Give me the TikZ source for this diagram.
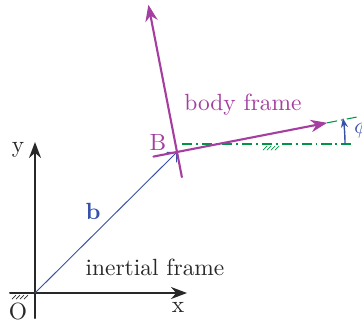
\documentclass[tikz,border=0pt]{standalone}
\usetikzlibrary{arrows.meta,calc}
\definecolor{bodycol}{RGB}{165,62,160}
\definecolor{refcol}{RGB}{0,150,70}
\definecolor{veccol}{RGB}{55,80,170}
\definecolor{inkcol}{RGB}{40,40,40}
\begin{document}
\begin{tikzpicture}[line cap=round, line join=round, >=Stealth, x=0.15mm, y=0.15mm,
  axis/.style={inkcol, line width=0.85pt, ->},
  bodyaxis/.style={bodycol, line width=0.9pt, ->},
  refline/.style={refcol, line width=0.45pt, line cap=butt, dash pattern=on 4.3pt off 1.7pt on 0.8pt off 1.7pt},
  hatch/.style={line width=0.3pt}]
  \useasboundingbox (-35,-31) rectangle (327,293);
  \coordinate (O) at (0,0);
  \coordinate (B) at (142,141);
  % inertial frame
  \draw[axis] (-25,0) -- (152,0);
  \draw[axis] (0,-25) -- (0,151);
  \foreach \i in {-23,-19,...,-11}
    \draw[hatch, inkcol] (\i,-6) -- ++(4,4);
  \node[inkcol] (xlabel) at (143,-14) {x};
  \node[inkcol] (ylabel) at (-17,143) {y};
  \node[inkcol] (olabel) at (-17,-18) {O};
  \node[inkcol] (inertial) at (120,26) {inertial frame};
  % position vector
  \draw[veccol, line width=0.4pt, -{Straight Barb[length=3pt]}] (O) -- (B);
  \node[veccol] (blabel) at (58,82) {$\mathbf{b}$};
  % reference line and angle
  \draw[refline] (147,149) -- (320,149);
  \foreach \i in {228,232,...,240}
    \draw[hatch, refcol] (\i,143) -- ++(4,4);
  \draw[refline] ($(B)+(11:153)$) -- ($(B)+(11:184)$);
  \draw[veccol, line width=0.6pt, -{Stealth[length=4pt]}] (310,149) arc[start angle=0, end angle=9, radius=165];
  \node[veccol] (philabel) at (326,165) {$\phi$};
  % body frame
  \draw[bodyaxis] ($(B)+(191:24)$) -- ($(B)+(11:153)$);
  \draw[bodyaxis] ($(B)+(281:25.5)$) -- ($(B)+(101:150)$);
  \node[bodycol] (Blabel) at (123,151) {B};
  \node[bodycol] (bodylabel) at (208,188) {body frame};
\end{tikzpicture}
\end{document}
